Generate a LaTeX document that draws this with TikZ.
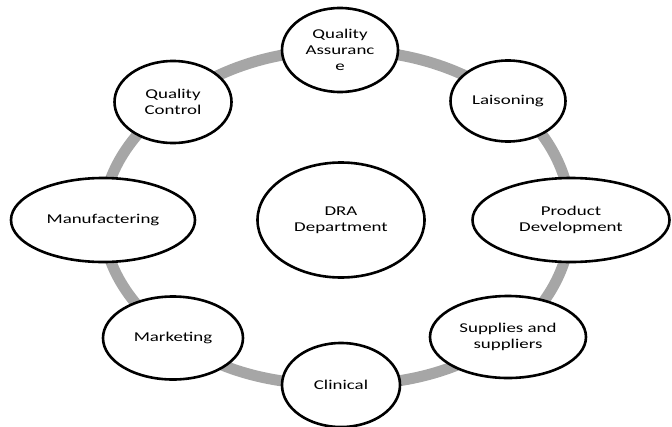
\documentclass[tikz,border=0pt]{standalone}
\usepackage{fontspec}
\usetikzlibrary{shapes.geometric}
\usetikzlibrary{backgrounds}
\newfontfamily\bubblefont[FakeStretch=1.4]{Carlito}
\definecolor{ringgray}{HTML}{A6A6A6}
\tikzset{bubble/.style={ellipse, draw, line width=2.6bp, fill=white, inner sep=0pt, align=center,
    font=\bubblefont\fontsize{13.5bp}{16bp}\selectfont}}
\tikzset{ring/.style={line width=11bp, draw=ringgray}}

\begin{document}
\begin{tikzpicture}[x=1bp, y=1bp]
      \useasboundingbox (0, 0) rectangle (672, 426);
      \node[bubble, minimum width=167bp, minimum height=115bp] (dra) at (341, 206) {DRA\\Department};
      \node[bubble, minimum width=116bp, minimum height=84bp] (qa) at (340, 376) {Quality\\Assuranc\\e};
      \node[bubble, minimum width=115bp, minimum height=81bp] (lai) at (508, 325) {Laisoning};
      \node[bubble, minimum width=197bp, minimum height=84bp] (pd) at (571, 206) {Product\\Development};
      \node[bubble, minimum width=156bp, minimum height=82bp] (sup) at (508, 89) {Supplies and\\suppliers};
      \node[bubble, minimum width=118bp, minimum height=84bp] (cli) at (341, 41) {Clinical};
      \node[bubble, minimum width=140bp, minimum height=83bp] (mkt) at (173, 88) {Marketing};
      \node[bubble, minimum width=184bp, minimum height=84bp] (man) at (103, 206) {Manufactering};
      \node[bubble, minimum width=117bp, minimum height=82bp] (qc) at (173, 324) {Quality\\Control};
      % grey ring behind the bubbles
      \begin{scope}[on background layer, looseness=0.9]
        \draw[ring] (qa.center) to[out=0, in=144] (lai.center);
        \draw[ring] (lai.center) to[out=-36, in=90] (pd.center);
        \draw[ring] (pd.center) to[out=-90, in=36] (sup.center);
        \draw[ring] (sup.center) to[out=-144, in=0] (cli.center);
        \draw[ring] (cli.center) to[out=180, in=-36] (mkt.center);
        \draw[ring] (mkt.center) to[out=144, in=-90] (man.center);
        \draw[ring] (man.center) to[out=90, in=-144] (qc.center);
        \draw[ring] (qc.center) to[out=36, in=180] (qa.center);
      \end{scope}
    \end{tikzpicture}
\end{document}
